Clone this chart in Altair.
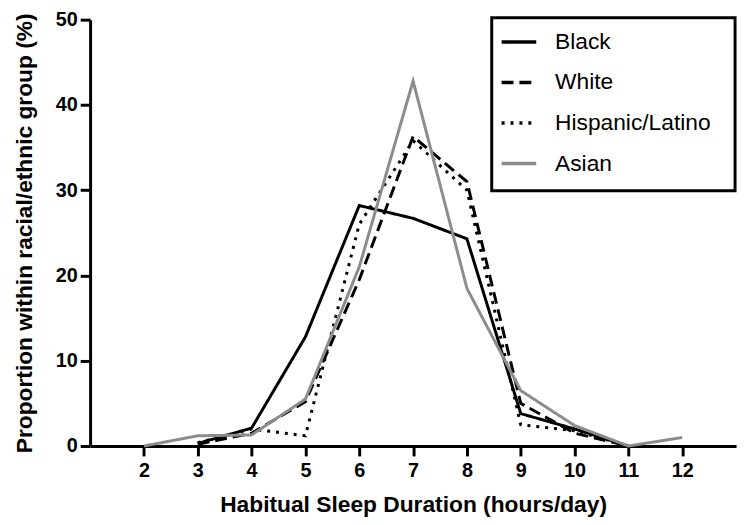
import altair as alt
import pandas as pd

hours = [2, 3, 4, 5, 6, 7, 8, 9, 10, 11, 12]
groups = ["Black", "White", "Hispanic/Latino", "Asian"]
black = [None, 0.3, 2.1, 12.8, 28.2, 26.7, 24.3, 3.8, 2.0, 0.0, None]
white = [None, 0.2, 1.5, 5.2, 19.5, 36.3, 31.0, 5.0, 1.5, 0.0, None]
hispanic = [None, 0.4, 2.0, 1.2, 26.0, 35.8, 30.0, 2.5, 1.8, 0.0, None]
asian = [0.0, 1.2, 1.3, 5.5, 21.0, 42.8, 18.5, 6.5, 2.4, 0.0, 1.0]
y_ticks = [0, 10, 20, 30, 40, 50]

rows = []
for g, vals in zip(groups, [black, white, hispanic, asian]):
    for h, v in zip(hours, vals):
        if v is not None:
            rows.append({"hours": h, "pct": v, "group": g})
df = pd.DataFrame(rows)

FONT = "Liberation Sans"

lines = alt.Chart(df).mark_line(strokeWidth=3, strokeCap="butt", strokeJoin="miter").encode(
    x=alt.X("hours:Q", scale=alt.Scale(domain=[1, 13], nice=False, zero=False),
            axis=alt.Axis(values=hours, title="Habitual Sleep Duration (hours/day)",
                          titlePadding=13, labelPadding=5, labelFlush=False)),
    y=alt.Y("pct:Q", scale=alt.Scale(domain=[0, 50], nice=False),
            axis=alt.Axis(values=y_ticks, title="Proportion within racial/ethnic group (%)",
                          titlePadding=19, labelPadding=3)),
    color=alt.Color("group:N", sort=groups,
                    scale=alt.Scale(domain=groups, range=["#000000", "#000000", "#000000", "#8c8c8c"]),
                    legend=alt.Legend(title=None, orient="none", legendX=414, legendY=3)),
    strokeDash=alt.StrokeDash("group:N", sort=groups,
                              scale=alt.Scale(domain=groups, range=[[1, 0], [12, 6], [3, 6], [1, 0]]),
                              legend=alt.Legend(title=None, orient="none", legendX=414, legendY=3)),
    detail="group:N",
)

frame = alt.Chart(df).mark_rect(fill="white", stroke="black", strokeWidth=3).encode(
    x=alt.value(406), x2=alt.value(652), y=alt.value(-2), y2=alt.value(173)
).transform_filter(alt.datum.hours == 2).transform_filter(alt.datum.group == "Asian")

chart = alt.layer(lines, frame).properties(
    width=653, height=431,
    autosize=alt.AutoSizeParams(type="none"),
    padding={"left": 83, "top": 9, "right": 6, "bottom": 70},
).configure_view(stroke=None).configure_axis(
    grid=False, domainColor="black", domainWidth=3, tickColor="black", tickWidth=3, tickSize=10,
    labelFont=FONT, labelFontWeight="bold", labelFontSize=20, labelColor="black",
    titleFont=FONT, titleFontWeight="bold", titleFontSize=23, titleColor="black",
).configure_legend(
    labelFont=FONT, labelFontSize=23, labelColor="black", symbolType="stroke",
    symbolSize=1225, symbolStrokeWidth=3.5, labelOffset=17, rowPadding=9, padding=0,
    symbolFillColor="transparent",
)

chart.save("out.html", embed_options={"renderer": "svg", "actions": False})
